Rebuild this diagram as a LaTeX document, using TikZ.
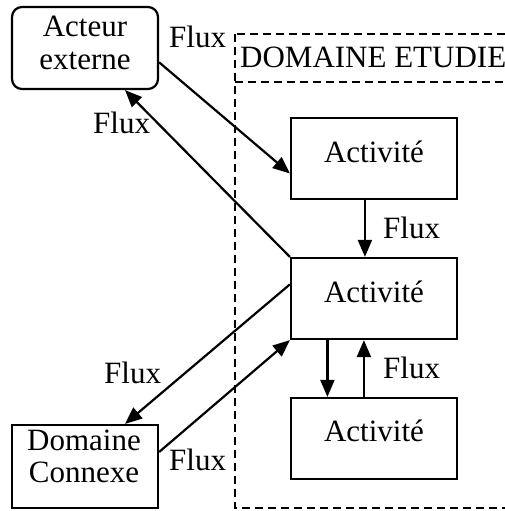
\documentclass[tikz,border=0pt]{standalone}
\usepackage{fontspec}
\setmainfont{Liberation Serif}
\usetikzlibrary{calc,arrows.meta}
\begin{document}
\begin{tikzpicture}[x=1pt,y=-1pt,
  mybox/.style={draw,line width=2.2pt,minimum width=#1,inner sep=0pt},
  lbl/.style={anchor=base west,inner sep=0pt,font=\fontsize{31}{33}\selectfont},
  ctext/.style={anchor=base,inner sep=0pt,font=\fontsize{31}{33}\selectfont},
  flow/.style={line width=2.2pt,-{Triangle[length=17pt,width=14pt]}},
  dashline/.style={line width=2pt,dash pattern=on 8pt off 5pt}]
\useasboundingbox (0,0) rectangle (505,511);
\fill[white] (0,0) rectangle (505,511);
% dashed domain
\coordinate (dtl) at (235,34);
\coordinate (dbr) at (520,508);
\coordinate (dml) at (235,82);
\coordinate (dmr) at (520,82);
\draw[dashline] (dtl) rectangle (dbr);
\draw[dashline] (dml) -- (dmr);
\node[lbl] (dtitle) at (240,67) {DOMAINE ETUDIE};
% boxes
\node[mybox=146pt,minimum height=82pt,rounded corners=10pt] (AE) at (85,48) {};
\node[mybox=146pt,minimum height=83pt] (DC) at (85,466.5) {};
\node[mybox=166pt,minimum height=81pt] (A1) at (374,158.5) {};
\node[mybox=166pt,minimum height=81pt] (A2) at (374,298.5) {};
\node[mybox=166pt,minimum height=81pt] (A3) at (374,438.5) {};
% texts
\node[ctext] (tAE1) at (85,37) {Acteur};
\node[ctext] (tAE2) at (85,70) {externe};
\node[ctext] (tDC1) at (84,450) {Domaine};
\node[ctext] (tDC2) at (84,482) {Connexe};
\node[ctext] (tA1) at (374,162) {Activité};
\node[ctext] (tA2) at (374,302) {Activité};
\node[ctext] (tA3) at (374,441) {Activité};
% connectors
\draw[flow] ($(AE.north east)!0.67!(AE.south east)$) -- ($(A1.north west)!0.68!(A1.south west)$);
\draw[flow] (A2.north west) -- ($(AE.south west)!0.77!(AE.south east)$);
\draw[flow] ($(A2.north west)!0.33!(A2.south west)$) -- ($(DC.north west)!0.77!(DC.north east)$);
\draw[flow] ($(DC.north east)!0.33!(DC.south east)$) -- (A2.south west);
\draw[flow] ($(A1.south west)!0.446!(A1.south east)$) -- ($(A2.north west)!0.446!(A2.north east)$);
\draw[flow] ($(A2.south west)!0.223!(A2.south east)$) -- ($(A3.north west)!0.223!(A3.north east)$);
\draw[flow] ($(A3.north west)!0.44!(A3.north east)$) -- ($(A2.south west)!0.44!(A2.south east)$);
% flux labels
\node[lbl] (f1) at (169,48) {Flux};
\node[lbl] (f2) at (93,133) {Flux};
\node[lbl] (f3) at (383,238) {Flux};
\node[lbl] (f4) at (383,378) {Flux};
\node[lbl] (f5) at (104,383) {Flux};
\node[lbl] (f6) at (169,470) {Flux};
\end{tikzpicture}
\end{document}
